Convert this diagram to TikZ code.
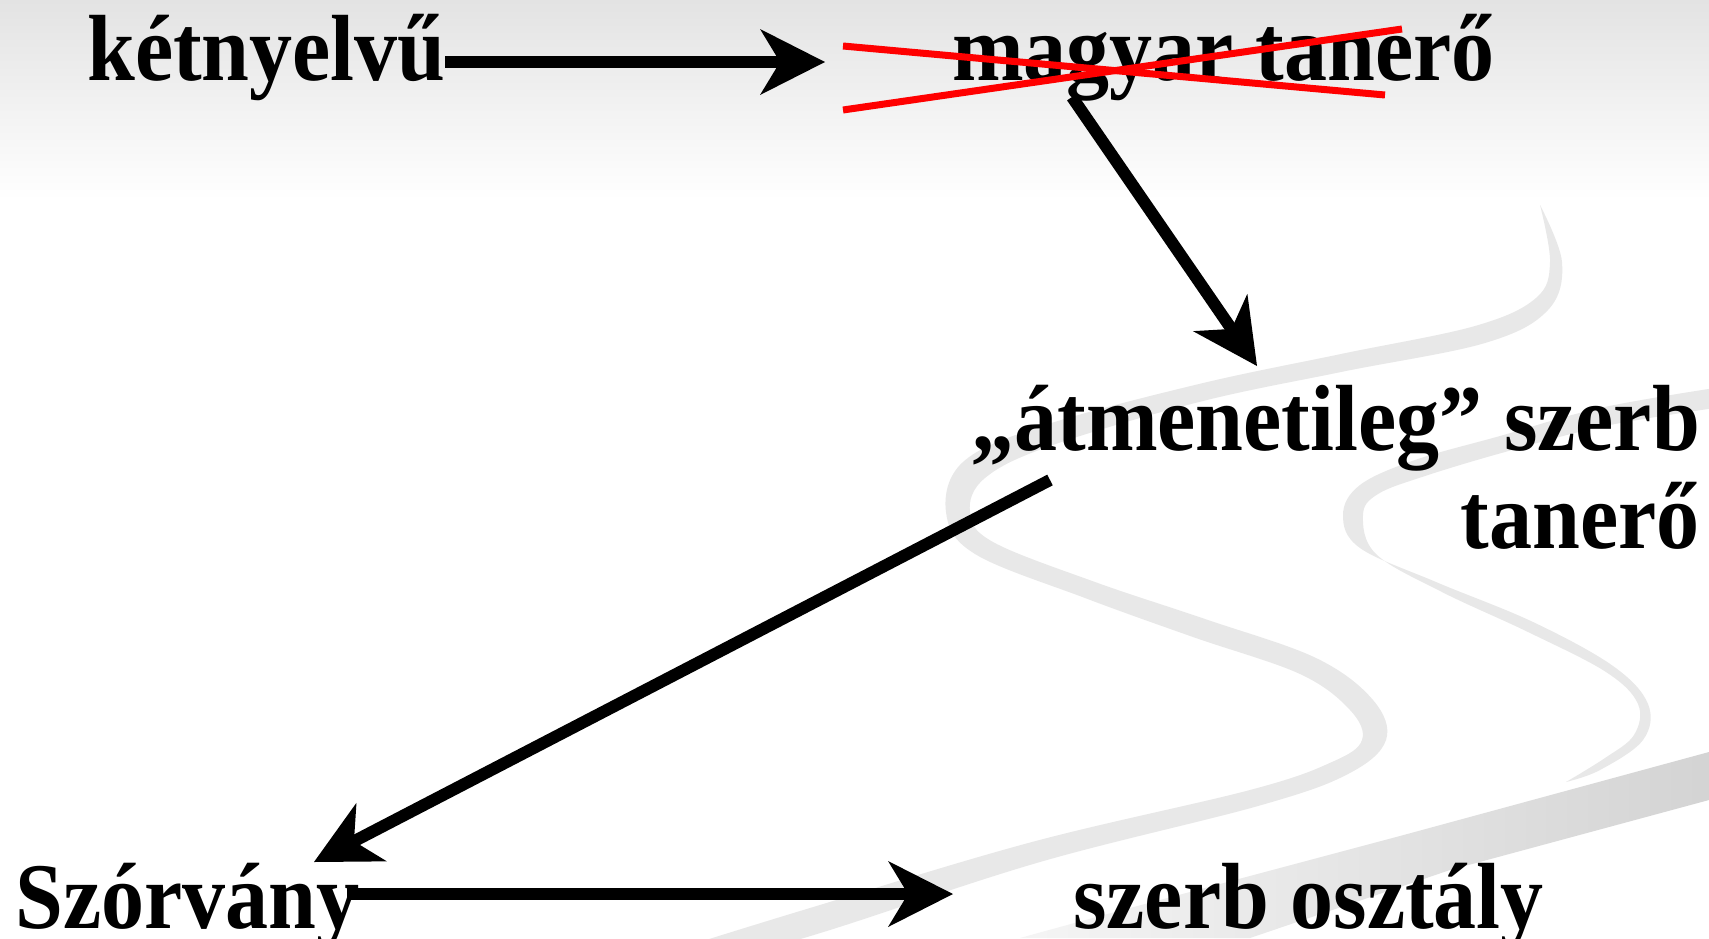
\documentclass[tikz,border=0pt]{standalone}
\usepackage{fontspec}
\setmainfont{Liberation Serif}
\usepackage{graphicx}
\usetikzlibrary{arrows.meta}
\newcommand\hsq[1]{\scalebox{0.915}[1]{#1}}
\begin{document}
\begin{tikzpicture}[x=1pt,y=-1pt,
  lbl/.style={inner sep=0pt, font=\fontsize{94}{100}\selectfont\bfseries},
  conn/.style={line width=12pt, -{Stealth[length=65pt,width=66pt,inset=20pt,line width=0pt]}},
  strike/.style={red, line width=7pt},
  ribbon/.style={fill=black!9}]
\useasboundingbox (0,0) rectangle (1709,938);
\fill[white] (0,0) rectangle (1709,938);
\shade[top color=black!11, bottom color=white] (0,0) rectangle (1709,200);
% background swooshes
\path[ribbon] plot[smooth, tension=0.6] coordinates {(1540,205) (1562,262) (1548,310) (1485,343) (1341,372) (1199,402) (1050,446) (985,478) (970,512) (993,542) (1095,582) (1205,619) (1316,658) (1373,700) (1386,740) (1348,774) (1258,806) (1040,862) (830,930) (720,962)}
  -- plot[smooth, tension=0.6] coordinates {(690,945) (810,908) (1032,842) (1250,790) (1332,762) (1362,740) (1350,710) (1300,674) (1193,637) (1085,598) (975,554) (946,512) (963,462) (1042,426) (1199,384) (1341,354) (1475,326) (1536,298) (1550,262) (1540,205)} -- cycle;
\path[ribbon] plot[smooth, tension=0.6] coordinates {(1715,388) (1600,408) (1500,436) (1415,460) (1360,485) (1343,515) (1360,548) (1436,582) (1533,622) (1613,666) (1648,704) (1643,740) (1600,770) (1566,782)}
  -- plot[smooth, tension=0.6] coordinates {(1566,782) (1605,758) (1634,735) (1638,704) (1606,672) (1528,632) (1442,592) (1376,554) (1363,515) (1378,494) (1425,476) (1505,452) (1605,426) (1715,408)} -- cycle;
\shade[left color=black!4, right color=black!17] (1709,752) -- (1400,836) -- (1100,916) -- (1020,938) -- (1250,938) -- (1450,870) -- (1709,800) -- cycle;
% texts
\node[lbl, anchor=base west] (ket) at (87,80) {\hsq{kétnyelvű}};
\node[lbl, anchor=base west] (mag) at (952,80) {\hsq{magyar tanerő}};
\node[lbl, anchor=base east] (atm) at (1700,450) {\hsq{„átmenetileg” szerb}};
\node[lbl, anchor=base east] (tan) at (1700,548) {\hsq{tanerő}};
\node[lbl, anchor=base west] (szo) at (15,928) {\hsq{Szórvány}};
\node[lbl, anchor=base west] (osz) at (1073,928) {\hsq{szerb osztály}};
% connector end points
\coordinate (a1s) at (445,62);
\coordinate (a1e) at (825,62);
\coordinate (a2s) at (1072,97);
\coordinate (a2e) at (1257,366);
\coordinate (a3s) at (1050,480);
\coordinate (a3e) at (314,862);
\coordinate (a4s) at (347,894);
\coordinate (a4e) at (953,894);
\draw[conn] (a1s) -- (a1e);
\draw[conn] (a2s) -- (a2e);
\draw[conn] (a3s) -- (a3e);
\draw[conn] (a4s) -- (a4e);
% strike-through of "magyar tanerő"
\coordinate (s1a) at (843,46);
\coordinate (s1b) at (1385,95);
\coordinate (s2a) at (843,110);
\coordinate (s2b) at (1402,29);
\draw[strike] (s1a) -- (s1b);
\draw[strike] (s2a) -- (s2b);
\end{tikzpicture}
\end{document}
